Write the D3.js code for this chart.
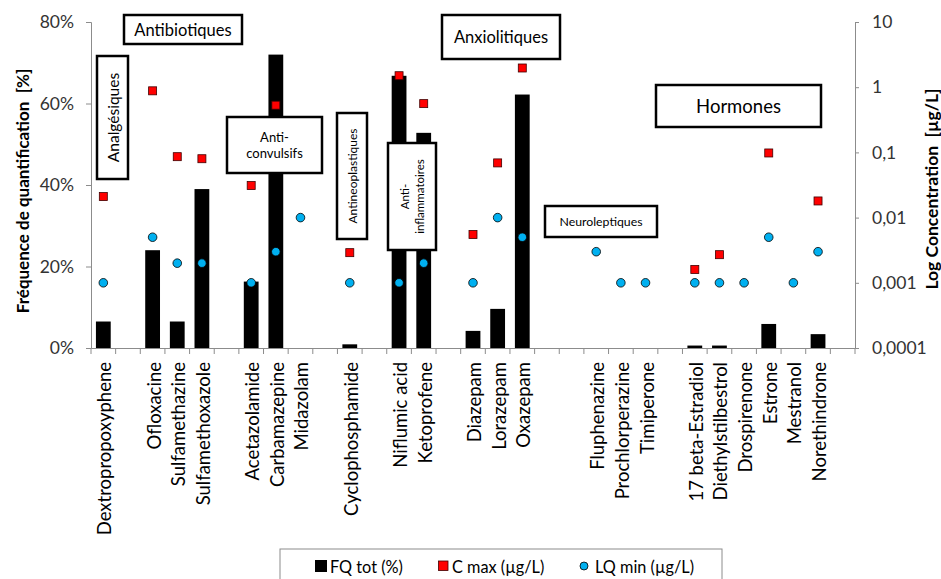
<!DOCTYPE html>
<html>
<head>
<meta charset="utf-8">
<script src="https://cdn.jsdelivr.net/npm/d3@7"></script>
<style>
  html, body { margin: 0; padding: 0; background: #fff; }
  svg { display: block; font-family: Lato, "Open Sans", sans-serif; }
</style>
</head>
<body>
<svg id="chart" width="941" height="579"></svg>
<script>
// ---------- DATA ----------
const categories = [
  "Dextropropoxyphene", "", "Ofloxacine", "Sulfamethazine", "Sulfamethoxazole", "",
  "Acetazolamide", "Carbamazepine", "Midazolam", "", "Cyclophosphamide", "",
  "Niflumic acid", "Ketoprofene", "", "Diazepam", "Lorazepam", "Oxazepam", "", "",
  "Fluphenazine", "Prochlorperazine", "Timiperone", "", "17 beta-Estradiol",
  "Diethylstilbestrol", "Drospirenone", "Estrone", "Mestranol", "Norethindrone", ""
];
// FQ tot (%) - left axis
const fqTot = [
  6.5, null, 24, 6.5, 39, null,
  16.3, 72, 0, null, 0.9, null,
  66.8, 52.8, null, 4.2, 9.6, 62.2, null, null,
  0, 0, 0, null, 0.6,
  0.6, 0, 5.9, 0, 3.4, null
];
// C max (µg/L) - right log axis
const cMax = [
  0.021, null, 0.88, 0.086, 0.080, null,
  0.031, 0.53, null, null, 0.0029, null,
  1.5, 0.56, null, 0.0055, 0.069, 1.97, null, null,
  null, null, null, null, 0.0016,
  0.0027, null, 0.098, null, 0.018, null
];
// LQ min (µg/L) - right log axis
const lqMin = [
  0.001, null, 0.005, 0.002, 0.002, null,
  0.001, 0.003, 0.01, null, 0.001, null,
  0.001, 0.002, null, 0.001, 0.01, 0.005, null, null,
  0.003, 0.001, 0.001, null, 0.001,
  0.001, 0.001, 0.005, 0.001, 0.003, null
];
const leftTicks = [0, 20, 40, 60, 80];
const rightTicks = [0.0001, 0.001, 0.01, 0.1, 1, 10];
const rightTickLabels = ["0,0001", "0,001", "0,01", "0,1", "1", "10"];
const seriesNames = ["FQ tot (%)", "C max (µg/L)", "LQ min (µg/L)"];

// Group annotation boxes (layout)
const groups = [
  { lines: ["Antibiotiques"], x: 124, y: 15, w: 118, h: 29, size: 16.5, rotate: false },
  { lines: ["Analgésiques"], x: 97, y: 56, w: 31, h: 123, size: 15.5, rotate: true },
  { lines: ["Anti-", "convulsifs"], x: 227, y: 117, w: 95, h: 56, size: 13, rotate: false },
  { lines: ["Antineoplastiques"], x: 337, y: 113, w: 30, h: 126, size: 12, rotate: true },
  { lines: ["Anti-", "inflammatoires"], x: 388, y: 143, w: 48, h: 107, size: 11.5, rotate: true },
  { lines: ["Anxiolitiques"], x: 442, y: 15, w: 118, h: 44, size: 16.5, rotate: false },
  { lines: ["Neuroleptiques"], x: 545, y: 206, w: 112, h: 31, size: 12.3, rotate: false },
  { lines: ["Hormones"], x: 656, y: 85, w: 165, h: 42, size: 18.5, rotate: false }
];

// ---------- LAYOUT ----------
const plotLeft = 91, plotRight = 855, plotTop = 22, plotBottom = 348;
const svg = d3.select("#chart");

const x = d3.scaleBand().domain(d3.range(categories.length)).range([plotLeft, plotRight]).padding(0);
const yL = d3.scaleLinear().domain([0, 80]).range([plotBottom, plotTop]);
const yR = d3.scaleLog().domain([0.0001, 10]).range([plotBottom, plotTop]);
const barW = x.bandwidth() * 0.6;
const axisColor = "#8c8c8c";
const textColor = "#333";

// Bars
svg.append("g").selectAll("rect")
  .data(fqTot.map((v, i) => ({ v, i })).filter(d => d.v != null && d.v > 0))
  .join("rect")
  .attr("x", d => x(d.i) + (x.bandwidth() - barW) / 2)
  .attr("width", barW)
  .attr("y", d => yL(d.v))
  .attr("height", d => yL(0) - yL(d.v))
  .attr("fill", "#000");

// Annotation boxes
const gb = svg.append("g");
groups.forEach(g => {
  gb.append("rect").attr("x", g.x).attr("y", g.y).attr("width", g.w).attr("height", g.h)
    .attr("fill", "#fff").attr("stroke", "#000").attr("stroke-width", 2.5);
  const cx = g.x + g.w / 2, cy = g.y + g.h / 2;
  const lh = g.size * 1.25;
  const n = g.lines.length;
  g.lines.forEach((t, k) => {
    const off = (k - (n - 1) / 2) * lh;
    const txt = gb.append("text").attr("text-anchor", "middle").attr("dominant-baseline", "central")
      .attr("font-size", g.size).attr("fill", "#000").text(t);
    if (g.rotate) {
      txt.attr("transform", `translate(${cx + off},${cy}) rotate(-90)`);
    } else {
      txt.attr("x", cx).attr("y", cy + off);
    }
  });
});

// LQ min circles
svg.append("g").selectAll("circle")
  .data(lqMin.map((v, i) => ({ v, i })).filter(d => d.v != null))
  .join("circle")
  .attr("cx", d => x(d.i) + x.bandwidth() / 2)
  .attr("cy", d => yR(d.v))
  .attr("r", 4.3)
  .attr("fill", "#00b0f0")
  .attr("stroke", "#000").attr("stroke-width", 0.8);

// C max squares
const sq = 8;
svg.append("g").selectAll("rect")
  .data(cMax.map((v, i) => ({ v, i })).filter(d => d.v != null))
  .join("rect")
  .attr("x", d => x(d.i) + x.bandwidth() / 2 - sq / 2)
  .attr("y", d => yR(d.v) - sq / 2)
  .attr("width", sq).attr("height", sq)
  .attr("fill", "#ff0000")
  .attr("stroke", "#400000").attr("stroke-width", 0.8);

// Left axis
const axL = svg.append("g").attr("transform", `translate(${plotLeft},0)`)
  .call(d3.axisLeft(yL).tickValues(leftTicks).tickFormat(d => d + "%").tickSize(5).tickPadding(12));
// Right axis
const axR = svg.append("g").attr("transform", `translate(${plotRight},0)`)
  .call(d3.axisRight(yR).tickValues(rightTicks).tickFormat((d, i) => rightTickLabels[i]).tickSize(4).tickPadding(13));
// X axis
const axX = svg.append("g").attr("transform", `translate(0,${plotBottom})`)
  .call(d3.axisBottom(x).tickValues([]).tickSizeOuter(0));
axX.selectAll(".tick").remove();
axX.selectAll("line.bt").data(d3.range(categories.length + 1)).join("line")
  .attr("class", "bt")
  .attr("x1", i => plotLeft + i * x.step()).attr("x2", i => plotLeft + i * x.step())
  .attr("y1", 0).attr("y2", 6).attr("stroke", axisColor);

[axL, axR, axX].forEach(a => {
  a.selectAll("path.domain").attr("stroke", axisColor);
  a.selectAll(".tick line").attr("stroke", axisColor);
  a.selectAll(".tick text").attr("font-size", 17.5).attr("fill", textColor)
    .attr("font-family", "Lato, 'Open Sans', sans-serif");
});

// Category labels
svg.append("g").selectAll("text")
  .data(categories.map((c, i) => ({ c, i })).filter(d => d.c !== ""))
  .join("text")
  .attr("transform", d => `translate(${x(d.i) + x.bandwidth() / 2 + 1},${plotBottom + 14}) rotate(-90)`)
  .attr("text-anchor", "end")
  .attr("dominant-baseline", "central")
  .attr("font-size", 18.5)
  .attr("fill", "#000")
  .text(d => d.c);

// Axis titles
svg.append("text")
  .attr("transform", `translate(22,${(plotTop + plotBottom) / 2 + 6}) rotate(-90)`)
  .attr("text-anchor", "middle").attr("dominant-baseline", "central")
  .attr("font-size", 17).attr("font-weight", "bold").attr("fill", "#000")
  .attr("xml:space", "preserve")
  .text("Fréquence de quantification  [%]");
svg.append("text")
  .attr("transform", `translate(931,${(plotTop + plotBottom) / 2 + 4}) rotate(-90)`)
  .attr("text-anchor", "middle").attr("dominant-baseline", "central")
  .attr("font-size", 17.5).attr("font-weight", "bold").attr("fill", "#000")
  .attr("xml:space", "preserve")
  .text("Log Concentration  [µg/L]");

// Legend
const lg = svg.append("g");
lg.append("rect").attr("x", 280).attr("y", 549).attr("width", 442).attr("height", 40)
  .attr("fill", "#fff").attr("stroke", "#8c8c8c").attr("stroke-width", 1);
const ly = 566;
lg.append("rect").attr("x", 315).attr("y", ly - 6).attr("width", 12).attr("height", 12).attr("fill", "#000");
lg.append("rect").attr("x", 438.5).attr("y", ly - 5).attr("width", 9.5).attr("height", 9.5)
  .attr("fill", "#ff0000").attr("stroke", "#400000").attr("stroke-width", 0.8);
lg.append("circle").attr("cx", 584).attr("cy", ly).attr("r", 4)
  .attr("fill", "#00b0f0").attr("stroke", "#000").attr("stroke-width", 0.8);
const legendTextX = [330, 452, 595];
seriesNames.forEach((s, k) => {
  lg.append("text").attr("x", legendTextX[k]).attr("y", ly)
    .attr("dominant-baseline", "central").attr("font-size", 16.3).attr("fill", "#000").text(s);
});
</script>
</body>
</html>
